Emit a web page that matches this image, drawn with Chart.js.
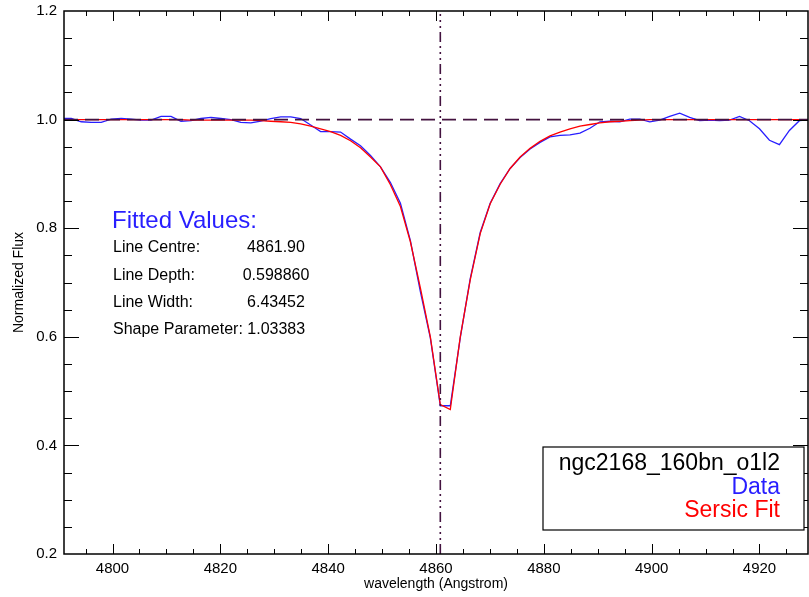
<!DOCTYPE html>
<html>
<head>
<meta charset="utf-8">
<title>ngc2168_160bn_o1l2</title>
<script src="https://cdn.jsdelivr.net/npm/chart.js@4.4.0/dist/chart.umd.min.js"></script>
<style>
  html, body { margin: 0; padding: 0; background: #fff; }
  #spec { display: block; }
</style>
</head>
<body>
<canvas id="spec" width="809" height="597"></canvas>
<script>
// wavelength grid (Angstrom) of the spectrum
var wavelength = [
  4790.50, 4792.35, 4794.20, 4796.05, 4797.90, 4799.75, 4801.60, 4803.45, 4805.30, 4807.15,
  4809.00, 4810.85, 4812.70, 4814.55, 4816.40, 4818.25, 4820.10, 4821.95, 4823.80, 4825.65,
  4827.50, 4829.35, 4831.20, 4833.05, 4834.90, 4836.75, 4838.60, 4840.45, 4842.30, 4844.15,
  4846.00, 4847.85, 4849.70, 4851.55, 4853.40, 4855.25, 4857.10, 4858.95, 4860.80, 4862.65,
  4864.50, 4866.35, 4868.20, 4870.05, 4871.90, 4873.75, 4875.60, 4877.45, 4879.30, 4881.15,
  4883.00, 4884.85, 4886.70, 4888.55, 4890.40, 4892.25, 4894.10, 4895.95, 4897.80, 4899.65,
  4901.50, 4903.35, 4905.20, 4907.05, 4908.90, 4910.75, 4912.60, 4914.45, 4916.30, 4918.15,
  4920.00, 4921.85, 4923.70, 4925.55, 4927.40, 4929.25
];

// observed normalized flux
var fluxData = [
  1.002, 1.002, 0.996, 0.995, 0.995, 1.001, 1.002, 1.001, 0.999, 0.999,
  1.006, 1.006, 0.997, 0.998, 1.002, 1.004, 1.002, 1.000, 0.995, 0.994,
  0.997, 1.002, 1.005, 1.005, 1.002, 0.990, 0.978, 0.978, 0.977, 0.964,
  0.952, 0.934, 0.913, 0.884, 0.846, 0.777, 0.683, 0.598, 0.473, 0.473,
  0.598, 0.707, 0.792, 0.846, 0.882, 0.910, 0.930, 0.946, 0.958, 0.968,
  0.971, 0.972, 0.975, 0.984, 0.996, 0.997, 0.996, 1.001, 1.001, 0.996,
  0.999, 1.006, 1.012, 1.004, 0.998, 0.999, 0.998, 0.999, 1.006, 0.998,
  0.983, 0.962, 0.954, 0.980, 0.998, 1.000
];

// sersic fit
var fluxFit = [
  1.000, 1.000, 1.000, 1.000, 1.000, 1.000, 1.000, 1.000, 1.000, 1.000,
  1.000, 1.000, 1.000, 0.999, 0.999, 0.999, 0.999, 0.999, 0.999, 0.999,
  0.998, 0.997, 0.996, 0.995, 0.992, 0.988, 0.983, 0.978, 0.971, 0.961,
  0.948, 0.931, 0.913, 0.880, 0.840, 0.775, 0.690, 0.600, 0.475, 0.466,
  0.600, 0.705, 0.790, 0.845, 0.881, 0.910, 0.931, 0.947, 0.960, 0.970,
  0.977, 0.983, 0.988, 0.991, 0.994, 0.996, 0.997, 0.998, 0.999, 1.000,
  1.000, 1.000, 1.000, 1.000, 1.000, 1.000, 1.000, 1.000, 1.000, 1.000,
  1.000, 1.000, 1.000, 1.000, 1.000, 1.000
];

var xTickValues = [4800, 4820, 4840, 4860, 4880, 4900, 4920];
var yTickValues = [0.2, 0.4, 0.6, 0.8, 1.0, 1.2];
var xRange = [4791, 4929];
var yRange = [0.2, 1.2];
var continuum = 1.0;
var markedCentre = 4860.8;

var fitNames = ['Line Centre:', 'Line Depth:', 'Line Width:'];
var fitNumbers = ['4861.90', '0.598860', '6.43452'];
var shapeLine = 'Shape Parameter: 1.03383';
var starName = 'ngc2168_160bn_o1l2';

var FONT = "'Liberation Sans', Arial, Helvetica, sans-serif";
var BLUE = 'rgb(40,30,255)';
var PURPLE = '#43123f';

function pts(xs, ys) {
  var out = [];
  for (var i = 0; i < xs.length; i++) out.push({ x: xs[i], y: ys[i] });
  return out;
}

// IDL-ish frame: box + inward ticks on all four sides
var framePlugin = {
  id: 'frame',
  afterDatasetsDraw: function (chart) {
    var ctx = chart.ctx, a = chart.chartArea;
    var sx = chart.scales.x, sy = chart.scales.y;
    ctx.save();
    ctx.strokeStyle = '#000';
    ctx.lineWidth = 1;
    ctx.beginPath();
    for (var i = 0; i <= 27; i++) {
      var v = 4795 + i * 5;
      var px = Math.round(sx.getPixelForValue(v)) + 0.5;
      var len = (v % 20 === 0) ? 10 : 5;
      ctx.moveTo(px, a.bottom); ctx.lineTo(px, a.bottom - len);
      ctx.moveTo(px, a.top); ctx.lineTo(px, a.top + len);
    }
    for (var j = 5; j <= 23; j++) {
      var py = Math.round(sy.getPixelForValue(j * 0.05)) + 0.5;
      var l2 = (j % 4 === 0) ? 15 : 8;
      ctx.moveTo(a.left, py); ctx.lineTo(a.left + l2, py);
      ctx.moveTo(a.right, py); ctx.lineTo(a.right - l2, py);
    }
    ctx.stroke();
    ctx.lineWidth = 1.5;
    ctx.strokeRect(a.left, a.top, a.right - a.left, a.bottom - a.top);
    ctx.restore();
  },
  afterDraw: function (chart) {
    var ctx = chart.ctx;
    ctx.save();
    ctx.textBaseline = 'middle';
    // fitted values block
    ctx.fillStyle = BLUE;
    ctx.font = '24px ' + FONT;
    ctx.textAlign = 'left';
    ctx.fillText('Fitted Values:', 112, 221);
    ctx.fillStyle = '#000';
    ctx.font = '16px ' + FONT;
    for (var i = 0; i < fitNames.length; i++) {
      var yy = 248 + i * 27.3;
      ctx.textAlign = 'left';
      ctx.fillText(fitNames[i], 113, yy);
      ctx.textAlign = 'center';
      ctx.fillText(fitNumbers[i], 276, yy);
    }
    ctx.textAlign = 'left';
    ctx.fillText(shapeLine, 113, 330);

    // legend box
    ctx.fillStyle = '#fff';
    ctx.fillRect(543, 447, 261, 83);
    ctx.strokeStyle = '#000';
    ctx.lineWidth = 1.2;
    ctx.strokeRect(543, 447, 261, 83);
    ctx.font = '23px ' + FONT;
    ctx.textAlign = 'right';
    ctx.fillStyle = '#000';
    ctx.fillText(starName, 780, 464);
    ctx.fillStyle = BLUE;
    ctx.fillText('Data', 780, 488);
    ctx.fillStyle = '#ff0000';
    ctx.fillText('Sersic Fit', 780, 511);
    ctx.restore();
  }
};

var ctx = document.getElementById('spec').getContext('2d');
var spectrumChart = new Chart(ctx, {
  type: 'line',
  data: {
    datasets: [
      {
        label: 'continuum',
        data: [{ x: xRange[0], y: continuum }, { x: xRange[1], y: continuum }],
        borderColor: PURPLE, borderWidth: 1.6, borderDash: [14, 7],
        pointRadius: 0, order: 0
      },
      {
        label: 'centre',
        data: [{ x: markedCentre, y: yRange[0] }, { x: markedCentre, y: yRange[1] }],
        borderColor: PURPLE, borderWidth: 1.6, borderDash: [10, 4, 2, 4, 2, 4, 2, 4],
        pointRadius: 0, order: 0
      },
      {
        label: 'Sersic Fit',
        data: pts(wavelength, fluxFit),
        borderColor: '#ff0000', borderWidth: 1.3,
        pointRadius: 0, tension: 0, order: 1
      },
      {
        label: 'Data',
        data: pts(wavelength, fluxData),
        borderColor: BLUE, borderWidth: 1.3,
        pointRadius: 0, tension: 0, order: 2
      }
    ]
  },
  options: {
    responsive: false,
    animation: false,
    events: [],
    layout: { padding: { top: 11, right: 1, left: 0, bottom: 0 } },
    plugins: { legend: { display: false }, tooltip: { enabled: false } },
    scales: {
      x: {
        type: 'linear',
        min: xRange[0], max: xRange[1],
        grid: { display: false, drawTicks: false },
        border: { display: false },
        ticks: {
          autoSkip: false, maxRotation: 0, padding: 6,
          color: '#000', font: { family: FONT, size: 15 },
          callback: function (v) { return String(v); }
        },
        title: {
          display: true, text: 'wavelength (Angstrom)', color: '#000',
          font: { family: FONT, size: 14 }, padding: { top: 0, bottom: 4 }
        },
        afterBuildTicks: function (s) {
          s.ticks = xTickValues.map(function (v) { return { value: v }; });
        },
        afterFit: function (s) {
          s.height = 43;
          s.paddingLeft = 0; s.paddingRight = 0;
        }
      },
      y: {
        min: yRange[0], max: yRange[1],
        grid: { display: false, drawTicks: false },
        border: { display: false },
        ticks: {
          padding: 7,
          color: '#000', font: { family: FONT, size: 15 },
          callback: function (v) { return Number(v).toFixed(1); }
        },
        title: {
          display: true, text: 'Normalized Flux', color: '#000',
          font: { family: FONT, size: 14 }, padding: { top: 11, bottom: 0 }
        },
        afterBuildTicks: function (s) {
          s.ticks = yTickValues.map(function (v) { return { value: v }; });
        },
        afterFit: function (s) {
          s.width = 64;
          s.paddingTop = 0; s.paddingBottom = 0;
        }
      }
    }
  },
  plugins: [framePlugin]
});
</script>
</body>
</html>
